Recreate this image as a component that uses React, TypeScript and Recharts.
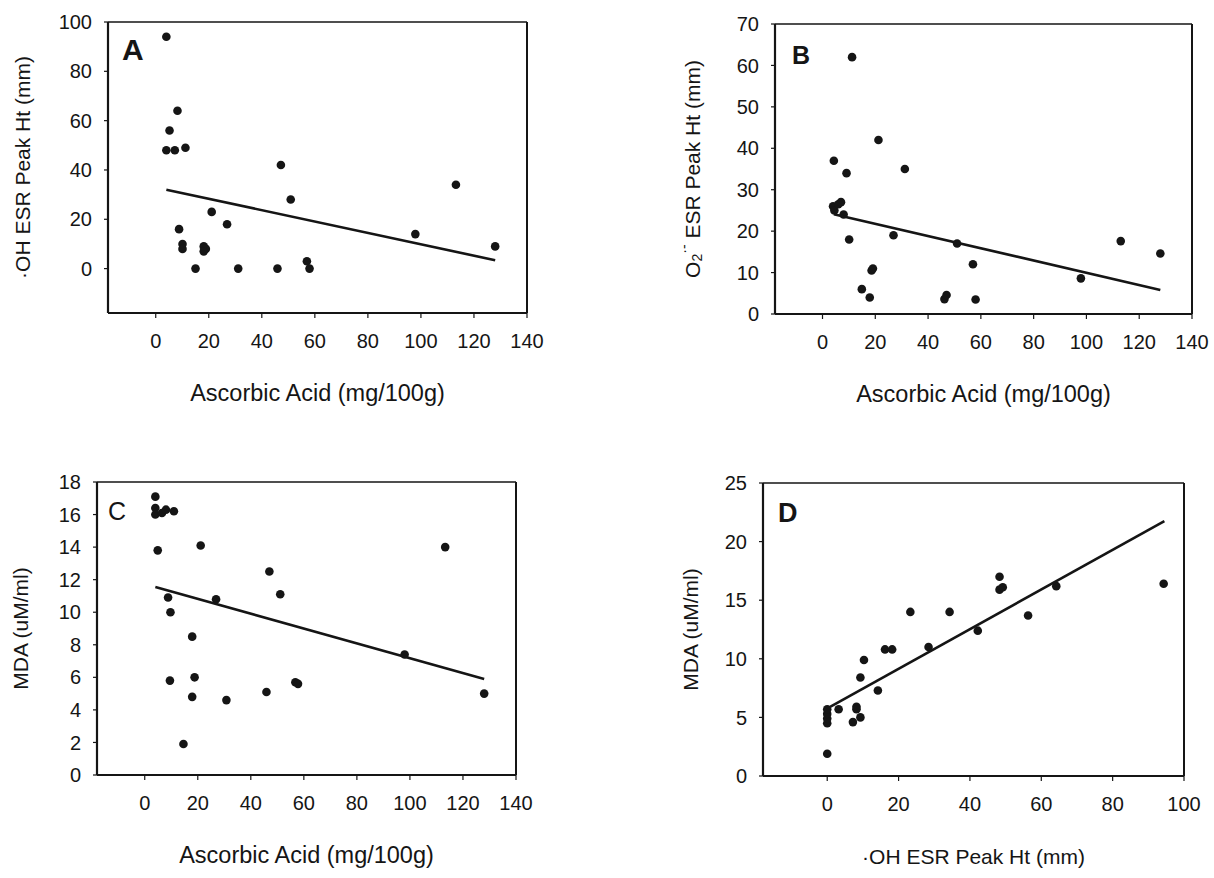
import React from "react";
import {
  ScatterChart,
  Scatter,
  XAxis,
  YAxis,
  Label,
  ReferenceLine,
} from "recharts";

// Panel A: ascorbic acid vs OH ESR peak height
const aX = [4, 8.2, 5.2, 4, 7.2, 11.2, 47.2, 50.9, 113.2, 97.9, 128, 21.1, 26.9, 8.8, 10.1, 10.1, 18.1, 18.9, 18.1, 15, 31.1, 45.9, 57, 58];
const aY = [94, 64, 56, 48, 48, 49, 42, 28, 34, 14, 9, 23, 18, 16, 10, 8, 9, 8, 7, 0, 0, 0, 3, 0];
const aTrendX = [4, 128];
const aTrendY = [32, 3.4];

// Panel B: ascorbic acid vs O2- ESR peak height
const bX = [11.2, 21.2, 4.3, 9.1, 31.2, 4, 4.5, 6, 7, 8, 10.1, 26.9, 51, 57, 18.6, 19.1, 14.9, 17.9, 46.2, 47, 58, 97.9, 113, 128];
const bY = [62, 42, 37, 34, 35, 26, 25, 26.5, 27, 24, 18, 19, 17, 12, 10.5, 11, 6, 4, 3.6, 4.6, 3.5, 8.6, 17.6, 14.6];
const bTrendX = [4.3, 128];
const bTrendY = [24.1, 5.8];

// Panel C: ascorbic acid vs MDA
const cX = [4, 4, 4, 6.5, 8, 11, 4.9, 21.1, 113.3, 47, 51.1, 26.9, 8.8, 9.7, 17.9, 98, 9.5, 18.8, 17.9, 30.8, 45.9, 56.8, 57.8, 128, 14.6];
const cY = [17.1, 16.4, 16.0, 16.1, 16.3, 16.2, 13.8, 14.1, 14.0, 12.5, 11.1, 10.8, 10.9, 10.0, 8.5, 7.4, 5.8, 6.0, 4.8, 4.6, 5.1, 5.7, 5.6, 5.0, 1.9];
const cTrendX = [4, 128];
const cTrendY = [11.55, 5.9];

// Panel D: OH ESR peak height vs MDA
const dX = [0, 0, 0, 0, 0, 3.2, 7.2, 8.2, 8.2, 9.3, 9.3, 10.3, 14.2, 16.2, 18.2, 23.3, 28.4, 34.3, 42.2, 48.3, 48.3, 49.2, 56.3, 64.2, 94.3];
const dY = [1.9, 4.5, 4.9, 5.3, 5.7, 5.7, 4.6, 5.9, 5.7, 5.0, 8.4, 9.9, 7.3, 10.8, 10.8, 14.0, 11.0, 14.0, 12.4, 17.0, 15.9, 16.1, 13.7, 16.2, 16.4];
const dTrendX = [0.8, 94.5];
const dTrendY = [5.9, 21.75];

const ascorbicTicks = [0, 20, 40, 60, 80, 100, 120, 140];
const ohTicks = [0, 20, 40, 60, 80, 100];
const mdaTicksC = [0, 2, 4, 6, 8, 10, 12, 14, 16, 18];
const mdaTicksD = [0, 5, 10, 15, 20, 25];
const o2Ticks = [0, 10, 20, 30, 40, 50, 60, 70];

const FONT = '"Liberation Sans", Arial, Helvetica, sans-serif';
const INK = "#151515";
const ML = 110;
const MT = 10;
const MR = 30;
const MB = 110;

const toPoints = (xs: number[], ys: number[]) => xs.map((x, i) => ({ x, y: ys[i] }));

const Dot = (props: any) => <circle cx={props.cx} cy={props.cy} r={4.3} fill={INK} />;
const NoDot = () => <g />;

function Panel(props: any) {
  const {
    left, top, width, height, xs, ys, tx, ty, xDomain, xTicks, yDomain, yTicks,
    xTitle, xTitleSize, yTitle, yTitleDx, letter, letterSize, letterBold, letterDx, letterDy,
  } = props;

  const xLabel = ({ viewBox }: any) => (
    <text
      x={viewBox.x + viewBox.width / 2}
      y={viewBox.y + 88}
      textAnchor="middle"
      fontFamily={FONT}
      fontSize={xTitleSize}
      fill={INK}
    >
      {xTitle}
    </text>
  );

  const yLabel = ({ viewBox }: any) => {
    const px = viewBox.x + viewBox.width;
    const cx = px - yTitleDx;
    const cy = viewBox.y + viewBox.height / 2;
    return (
      <g>
        <text
          x={cx}
          y={cy}
          transform={`rotate(-90, ${cx}, ${cy})`}
          textAnchor="middle"
          dominantBaseline="central"
          fontFamily={FONT}
          fontSize={21}
          fill={INK}
        >
          {yTitle}
        </text>
        <text
          x={px + letterDx}
          y={viewBox.y + letterDy}
          fontFamily={FONT}
          fontSize={letterSize}
          fontWeight={letterBold ? "bold" : "normal"}
          fill={INK}
        >
          {letter}
        </text>
      </g>
    );
  };

  return (
    <div style={{ position: "absolute", left: left - ML, top: top - MT }}>
      <ScatterChart
        width={width + ML + MR}
        height={height + MT + MB}
        margin={{ top: MT, right: MR, bottom: 0, left: 0 }}
      >
        <XAxis
          type="number"
          dataKey="x"
          domain={xDomain}
          ticks={xTicks}
          interval={0}
          allowDataOverflow
          height={MB}
          tickSize={5}
          tickMargin={16}
          axisLine={{ stroke: INK, strokeWidth: 2.2 }}
          tickLine={{ stroke: INK, strokeWidth: 1.2 }}
          tick={{ fill: INK, fontSize: 20, fontFamily: FONT }}
        >
          <Label content={xLabel} />
        </XAxis>
        <YAxis
          type="number"
          dataKey="y"
          domain={yDomain}
          ticks={yTicks}
          interval={0}
          allowDataOverflow
          width={ML}
          tickSize={4}
          tickMargin={12}
          axisLine={{ stroke: INK, strokeWidth: 2.2 }}
          tickLine={{ stroke: INK, strokeWidth: 1.2 }}
          tick={{ fill: INK, fontSize: 20, fontFamily: FONT }}
        >
          <Label content={yLabel} />
        </YAxis>
        <ReferenceLine y={yDomain[1]} stroke={INK} strokeWidth={1.4} />
        <ReferenceLine x={xDomain[1]} stroke={INK} strokeWidth={2} />
        <Scatter
          data={toPoints(xs, ys)}
          shape={Dot}
          isAnimationActive={false}
        />
        <Scatter
          data={toPoints(tx, ty)}
          shape={NoDot}
          line={{ stroke: INK, strokeWidth: 2.6 }}
          isAnimationActive={false}
        />
      </ScatterChart>
    </div>
  );
}

const o2Title = (
  <>
    <tspan>O</tspan>
    <tspan dy={5} fontSize={14}>2</tspan>
    <tspan dy={-13} fontSize={14}>·-</tspan>
    <tspan dy={8}> ESR Peak Ht (mm)</tspan>
  </>
);

export default function App() {
  return (
    <div
      style={{
        position: "absolute",
        left: 0,
        top: 0,
        width: 1214,
        height: 878,
        background: "#fff",
      }}
    >
      <Panel
        left={108} top={22} width={419} height={291}
        xs={aX} ys={aY} tx={aTrendX} ty={aTrendY}
        xDomain={[-18, 140]} xTicks={ascorbicTicks}
        yDomain={[-18, 100]} yTicks={ohTicks}
        xTitle="Ascorbic Acid (mg/100g)" xTitleSize={23.5} yTitle="·OH ESR Peak Ht (mm)" yTitleDx={86}
        letter="A" letterSize={30} letterBold letterDx={14} letterDy={38}
      />
      <Panel
        left={775} top={24} width={417} height={290}
        xs={bX} ys={bY} tx={bTrendX} ty={bTrendY}
        xDomain={[-18, 140]} xTicks={ascorbicTicks}
        yDomain={[0, 70]} yTicks={o2Ticks}
        xTitle="Ascorbic Acid (mg/100g)" xTitleSize={23.5} yTitle={o2Title} yTitleDx={83}
        letter="B" letterSize={25} letterBold letterDx={17} letterDy={40}
      />
      <Panel
        left={97} top={482} width={419} height={293}
        xs={cX} ys={cY} tx={cTrendX} ty={cTrendY}
        xDomain={[-18, 140]} xTicks={ascorbicTicks}
        yDomain={[0, 18]} yTicks={mdaTicksC}
        xTitle="Ascorbic Acid (mg/100g)" xTitleSize={23.5} yTitle="MDA (uM/ml)" yTitleDx={77}
        letter="C" letterSize={25} letterBold={false} letterDx={11} letterDy={38}
      />
      <Panel
        left={763} top={483} width={421} height={293}
        xs={dX} ys={dY} tx={dTrendX} ty={dTrendY}
        xDomain={[-18, 100]} xTicks={ohTicks}
        yDomain={[0, 25]} yTicks={mdaTicksD}
        xTitle="·OH ESR Peak Ht (mm)" xTitleSize={21} yTitle="MDA (uM/ml)" yTitleDx={73}
        letter="D" letterSize={27} letterBold letterDx={15} letterDy={39}
      />
    </div>
  );
}
